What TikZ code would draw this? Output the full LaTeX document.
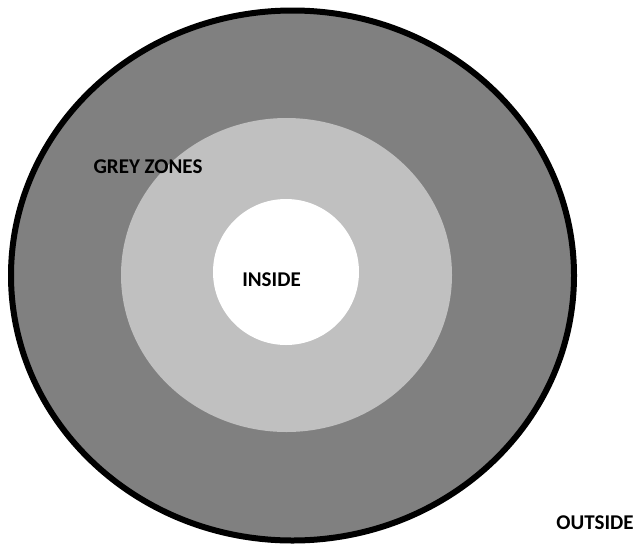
\documentclass[tikz,border=0pt]{standalone}
\usepackage{fontspec}
\setmainfont{Carlito}
\definecolor{darkzone}{HTML}{808080}
\definecolor{lightzone}{HTML}{C0C0C0}
\tikzset{lbl/.style={font=\bfseries\fontsize{21}{24}\selectfont, text=black, inner sep=0pt}}
\begin{document}
\begin{tikzpicture}[x=1pt,y=-1pt]
\useasboundingbox (0,0) rectangle (634,544);
\fill[white] (0,0) rectangle (634,544);
\draw[line width=6pt, fill=darkzone] (292.5,275.5) ellipse [x radius=281.5, y radius=265];
\fill[lightzone] (286.5,275) ellipse [x radius=165.5, y radius=157];
\fill[white] (286,272) ellipse [x radius=73, y radius=73];
\node[lbl] (grey) at (148,166.5) {GREY ZONES};
\node[lbl] (inside) at (271.5,280) {INSIDE};
\node[lbl] (outside) at (595,523) {OUTSIDE};
\end{tikzpicture}
\end{document}
